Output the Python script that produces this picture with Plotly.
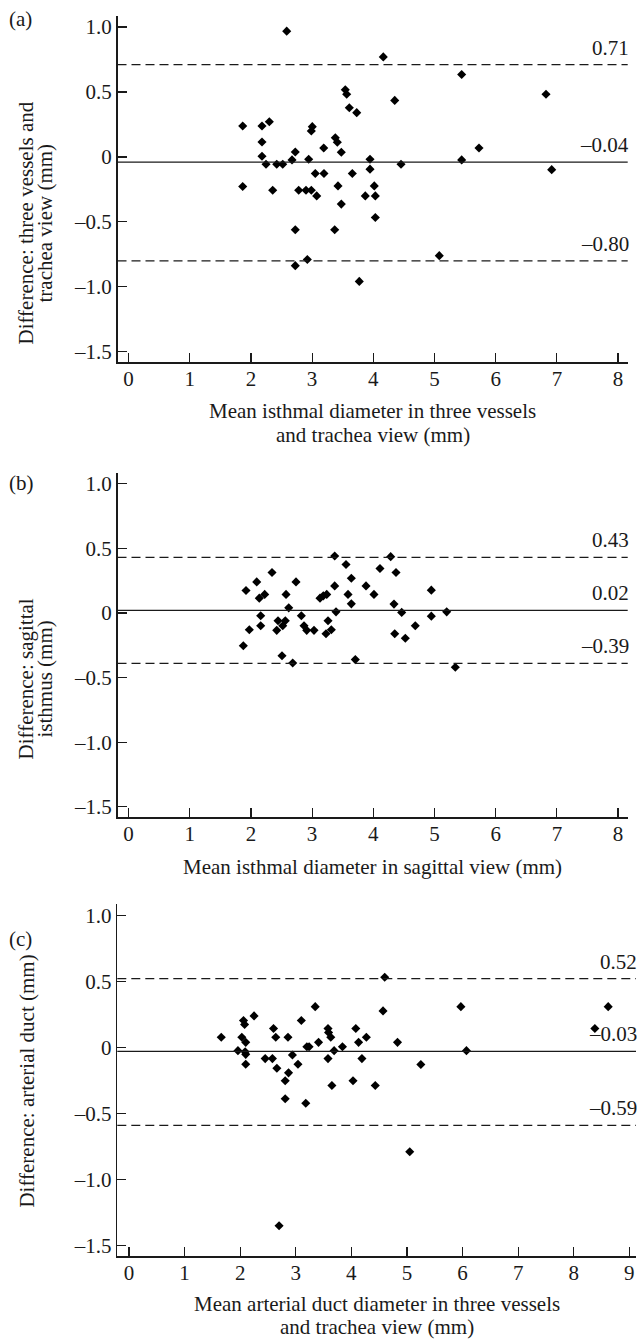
import plotly.graph_objects as go

# ---------------- data ----------------
a_x = [2.585, 1.866, 1.866, 2.181, 2.301, 2.181, 2.181, 2.247, 2.356, 2.422,
       2.520, 2.672, 2.725, 2.781, 2.725, 2.725, 2.922, 2.900, 2.987, 2.944,
       2.987, 3.003, 3.075, 3.052, 3.194, 3.190, 3.379, 3.412, 3.477, 3.423,
       3.477, 3.369, 3.542, 3.565, 3.608, 3.729, 3.657, 3.771, 3.946, 3.946,
       3.869, 4.016, 4.033, 4.033, 4.163, 4.350, 4.453, 5.078, 5.444, 5.444,
       5.727, 6.822, 6.915]
a_y = [0.968, 0.238, -0.228, 0.238, 0.271, 0.115, 0.005, -0.056, -0.256, -0.056,
       -0.056, -0.023, 0.038, -0.256, -0.561, -0.837, -0.789, -0.256, -0.256, -0.018,
       0.200, 0.233, -0.300, -0.128, -0.128, 0.069, 0.148, 0.113, 0.036, -0.223,
       -0.363, -0.561, 0.517, 0.482, 0.379, 0.341, -0.128, -0.958, -0.018, -0.094,
       -0.300, -0.223, -0.300, -0.466, 0.770, 0.435, -0.056, -0.760, 0.635, -0.023,
       0.069, 0.482, -0.098]
a_lines = [0.71, -0.04, -0.80]
a_line_labels = ["0.71", "\u20130.04", "\u20130.80"]

b_x = [1.920, 1.876, 1.974, 2.095, 2.137, 2.225, 2.160, 2.160, 2.345, 2.422,
       2.443, 2.520, 2.562, 2.508, 2.683, 2.574, 2.618, 2.737, 2.824, 2.868,
       2.912, 3.031, 3.129, 3.183, 3.239, 3.227, 3.314, 3.260, 3.369, 3.369,
       3.391, 3.554, 3.587, 3.641, 3.641, 3.706, 3.881, 4.011, 4.109, 4.284,
       4.371, 4.338, 4.464, 4.350, 4.523, 4.686, 4.948, 4.948, 5.199, 5.340]
b_y = [0.173, -0.254, -0.130, 0.240, 0.114, 0.143, -0.022, -0.099, 0.312, -0.135,
       -0.061, -0.099, -0.061, -0.331, -0.387, 0.143, 0.039, 0.240, -0.022, -0.099,
       -0.135, -0.135, 0.114, 0.132, 0.143, -0.161, -0.130, -0.061, 0.440, 0.209,
       0.008, 0.374, 0.143, 0.268, 0.070, -0.361, 0.209, 0.143, 0.343, 0.435,
       0.312, 0.068, 0.004, -0.161, -0.196, -0.099, 0.176, -0.025, 0.008, -0.420]
b_lines = [0.43, 0.02, -0.39]
b_line_labels = ["0.43", "0.02", "\u20130.39"]

c_x = [1.66, 1.96, 2.03, 2.06, 2.08, 2.10, 2.09, 2.10, 2.10, 2.25,
       2.45, 2.58, 2.60, 2.64, 2.66, 2.81, 2.81, 2.86, 2.87, 2.94,
       2.70, 3.04, 3.10, 3.18, 3.20, 3.24, 3.35, 3.41, 3.58, 3.59,
       3.63, 3.58, 3.69, 3.65, 3.84, 4.03, 4.08, 4.13, 4.19, 4.27,
       4.43, 4.57, 4.60, 4.83, 5.25, 5.05, 5.97, 6.07, 8.38, 8.62]
c_y = [0.077, -0.025, 0.077, 0.203, 0.173, 0.038, -0.033, -0.053, -0.128, 0.238,
       -0.085, -0.085, 0.143, 0.077, -0.158, -0.253, -0.389, 0.077, -0.193, -0.058,
       -1.35, -0.128, 0.203, -0.423, 0.005, 0.005, 0.308, 0.038, 0.143, 0.113,
       0.077, -0.085, -0.025, -0.288, 0.005, -0.253, 0.143, 0.038, -0.085, 0.077,
       -0.288, 0.276, 0.53, 0.038, -0.130, -0.79, 0.308, -0.025, 0.143, 0.308]
c_lines = [0.52, -0.03, -0.59]
c_line_labels = ["0.52", "\u20130.03", "\u20130.59"]

y_tickvals = [1.0, 0.5, 0, -0.5, -1.0, -1.5]
y_ticktext = ["1.0", "0.5", "0", "\u20130.5", "\u20131.0", "\u20131.5"]
ab_xticks = [0, 1, 2, 3, 4, 5, 6, 7, 8]
c_xticks = [0, 1, 2, 3, 4, 5, 6, 7, 8, 9]

panel_labels = ["(a)", "(b)", "(c)"]
y_titles = ["Difference: three vessels and<br>trachea view (mm)",
            "Difference: sagittal<br>isthmus (mm)",
            "Difference: arterial duct (mm)"]
x_titles = ["Mean isthmal diameter in three vessels<br>and trachea view (mm)",
            "Mean isthmal diameter in sagittal view (mm)",
            "Mean arterial duct diameter in three vessels<br>and trachea view (mm)"]

# ---------------- layout geometry (pixels) ----------------
W, H = 637, 1340
FONT = "Liberation Serif, Times New Roman, serif"
FS = 21
INK = "#1a1a1a"

panels = [
    dict(x=a_x, y=a_y, lines=a_lines, labels=a_line_labels, xticks=ab_xticks,
         left=117.5, right=627.7, top=15, bottom=362, xr=[-0.18, 8.157],
         ytitle_y=223, ytitle_x=[26, 45], lab_y=18, xt_y=[411, 435]),
    dict(x=b_x, y=b_y, lines=b_lines, labels=b_line_labels, xticks=ab_xticks,
         left=117.5, right=627.7, top=472.7, bottom=818, xr=[-0.18, 8.157],
         ytitle_y=680, ytitle_x=[26, 45], lab_y=483, xt_y=[868]),
    dict(x=c_x, y=c_y, lines=c_lines, labels=c_line_labels, xticks=c_xticks,
         left=117.3, right=636, top=905, bottom=1258, xr=[-0.21, 9.12],
         ytitle_y=1083, ytitle_x=[27], lab_y=940, xt_y=[1306, 1329]),
]
YR = [-1.58, 1.085]

fig = go.Figure()
layout = dict(width=W, height=H, margin=dict(l=0, r=0, t=0, b=0),
              paper_bgcolor="white", plot_bgcolor="white", showlegend=False,
              font=dict(family=FONT, size=FS, color=INK))
annotations = []
shapes = []

for i, p in enumerate(panels):
    n = "" if i == 0 else str(i + 1)
    xa, ya = "x" + n, "y" + n
    layout["xaxis" + n] = dict(
        domain=[p["left"] / W, p["right"] / W], range=p["xr"], anchor=ya,
        tickvals=p["xticks"], ticktext=[str(v) for v in p["xticks"]],
        ticks="inside", ticklen=9, tickwidth=1.2, tickcolor=INK,
        showline=True, linewidth=1.5, linecolor=INK, showgrid=False, zeroline=False,
        ticklabelstandoff=-3, fixedrange=True,
        tickfont=dict(family=FONT, size=FS, color=INK))
    layout["yaxis" + n] = dict(
        domain=[1 - p["bottom"] / H, 1 - p["top"] / H], range=YR, anchor=xa,
        tickvals=y_tickvals, ticktext=y_ticktext,
        ticks="inside", ticklen=9, tickwidth=1.2, tickcolor=INK,
        showline=True, linewidth=1.5, linecolor=INK, showgrid=False, zeroline=False,
        fixedrange=True,
        tickfont=dict(family=FONT, size=FS, color=INK))

    fig.add_trace(go.Scatter(x=p["x"], y=p["y"], mode="markers", xaxis=xa, yaxis=ya,
                             marker=dict(symbol="diamond", size=7, color="black",
                                         line=dict(width=0)),
                             hoverinfo="skip"))

    for j, (v, lab) in enumerate(zip(p["lines"], p["labels"])):
        shapes.append(dict(type="line", xref=xa + " domain", yref=ya,
                           x0=0, x1=1, y0=v, y1=v,
                           line=dict(color=INK, width=1.3,
                                     dash="solid" if j == 1 else "9px,5px")))
        annotations.append(dict(text=lab, xref=xa + " domain", yref=ya, x=1, y=v,
                                xanchor="right", yanchor="bottom", showarrow=False,
                                xshift=3, yshift=3,
                                font=dict(family=FONT, size=FS, color=INK)))

    # panel label
    annotations.append(dict(text=panel_labels[i], xref="paper", yref="paper",
                            x=7 / W, y=1 - p["lab_y"] / H, xanchor="left",
                            yanchor="middle", showarrow=False,
                            font=dict(family=FONT, size=FS, color=INK)))
    # y title (rotated)
    ylines = y_titles[i].split("<br>")
    for k, t in enumerate(ylines):
        annotations.append(dict(text=t, xref="paper", yref="paper",
                                x=p["ytitle_x"][k] / W, y=1 - p["ytitle_y"] / H,
                                xanchor="center", yanchor="middle", textangle=-90,
                                showarrow=False,
                                font=dict(family=FONT, size=FS, color=INK)))
    # x title
    xlines = x_titles[i].split("<br>")
    cx = (p["left"] + p["right"]) / 2 / W
    for k, t in enumerate(xlines):
        annotations.append(dict(text=t, xref="paper", yref="paper",
                                x=cx, y=1 - p["xt_y"][k] / H,
                                xanchor="center", yanchor="middle", showarrow=False,
                                font=dict(family=FONT, size=FS, color=INK)))

layout["annotations"] = annotations
layout["shapes"] = shapes
fig.update_layout(**layout)
fig.write_html("out.html", config={"displayModeBar": False, "staticPlot": True},
               post_script="document.body.style.margin='0';"
                           "document.body.style.overflow='hidden';")
